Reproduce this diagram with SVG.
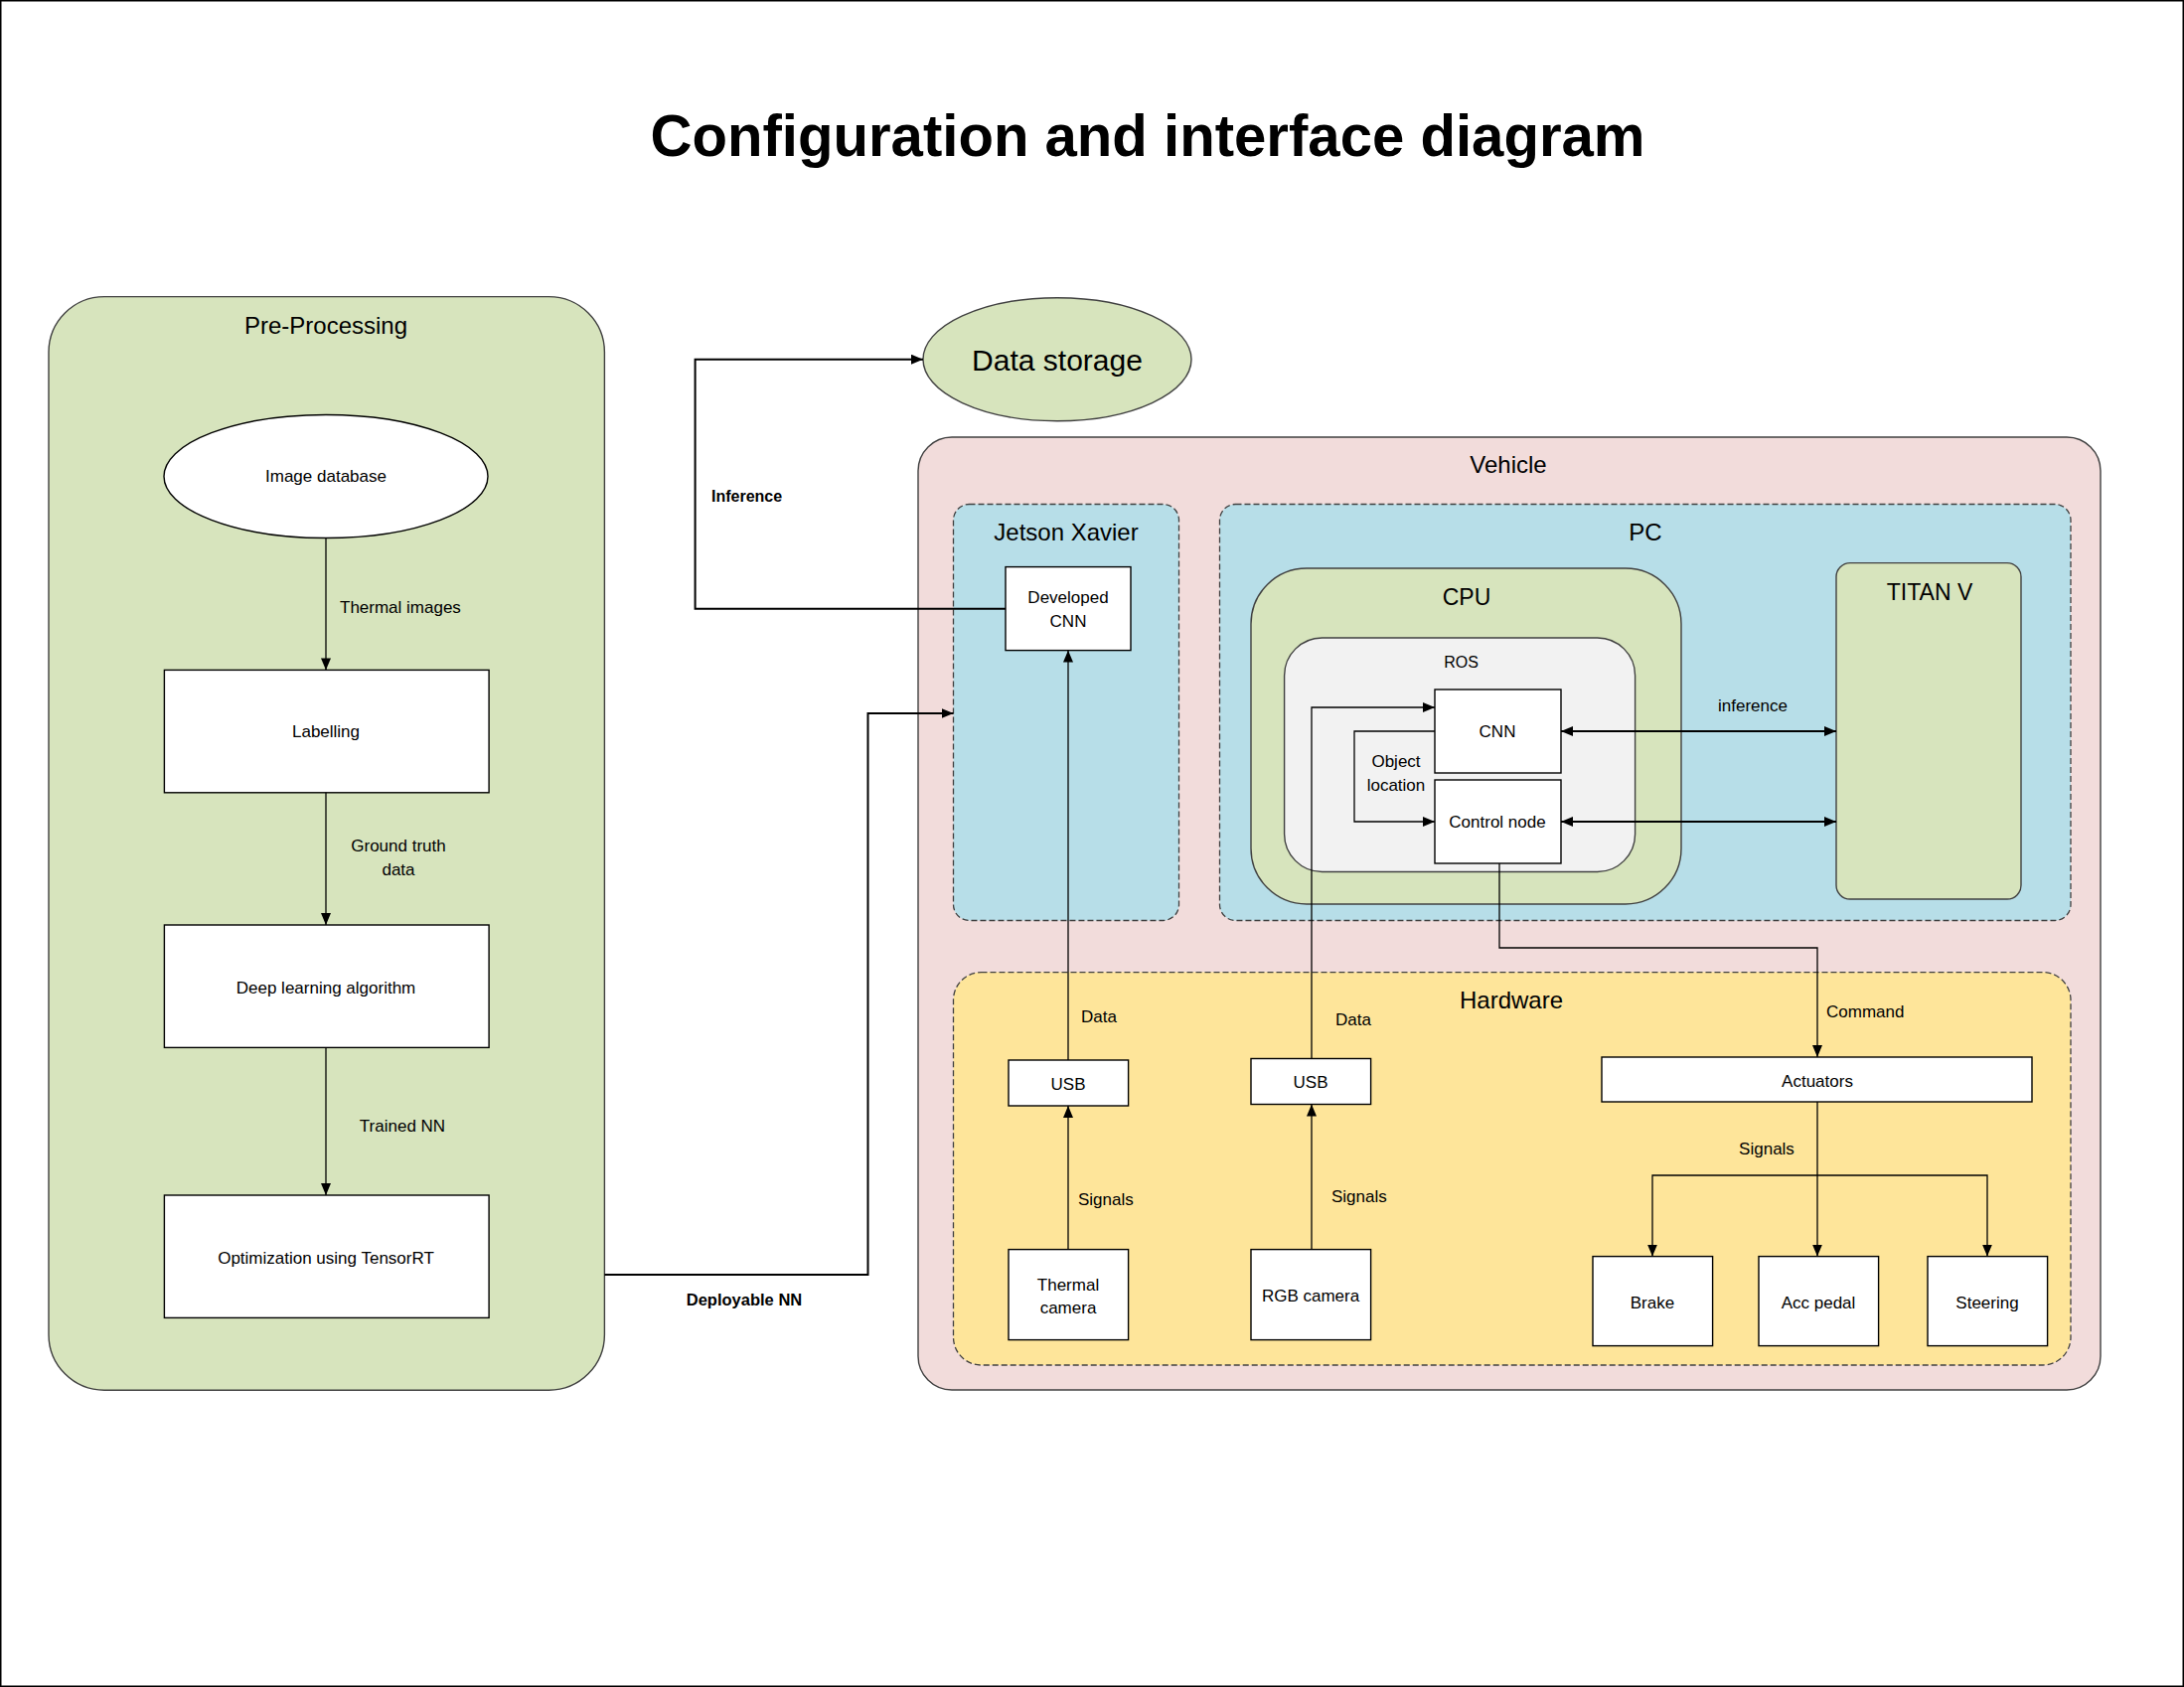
<svg xmlns="http://www.w3.org/2000/svg" width="2198" height="1698" viewBox="0 0 2198 1698">
<style>
text{font-family:"Liberation Sans",Arial,sans-serif;fill:#000}
.s{font-size:17px}
.m{font-size:24px}
.c{text-anchor:middle}
.b{font-weight:bold}
.box{fill:#fff;stroke:#000;stroke-width:1.4}
.green{fill:#d7e4bd;stroke:#404040;stroke-width:1.4}
.dash{stroke:#404040;stroke-width:1.3;stroke-dasharray:6 3}
.ln{fill:none;stroke:#000;stroke-width:1.3}
.thick{fill:none;stroke:#000;stroke-width:2}
</style>
<defs>
<marker id="ah" markerUnits="userSpaceOnUse" markerWidth="12" markerHeight="10" refX="12" refY="5" orient="auto-start-reverse" viewBox="0 0 12 10">
<path d="M0,0 L12,5 L0,10 z" fill="#000"/>
</marker>
</defs>
<rect x="0.75" y="0.75" width="2196.5" height="1696.5" fill="#fff" stroke="#000" stroke-width="1.5"/>
<text id="title" x="1155" y="157" class="c b" font-size="60" textLength="1001" lengthAdjust="spacingAndGlyphs">Configuration and interface diagram</text>

<g id="preprocessing">
<rect x="49" y="298.6" width="559.4" height="1100.6" rx="56" class="green"/>
<text x="328" y="328" dy="0.35em" class="m c">Pre-Processing</text>
</g>
<g id="image-database">
<ellipse cx="328" cy="479.5" rx="163" ry="62" class="box"/>
<text x="328" y="479.5" dy="0.35em" class="s c">Image database</text>
</g>
<g id="labelling">
<rect x="165.4" y="674.4" width="326.7" height="123.4" class="box"/>
<text x="328" y="736" dy="0.35em" class="s c">Labelling</text>
</g>
<g id="deep-learning">
<rect x="165.4" y="931" width="326.7" height="123.4" class="box"/>
<text x="328" y="994" dy="0.35em" class="s c">Deep learning algorithm</text>
</g>
<g id="optimization">
<rect x="165.4" y="1203" width="326.7" height="123.4" class="box"/>
<text x="328" y="1266" dy="0.35em" class="s c">Optimization using TensorRT</text>
</g>

<g id="data-storage">
<ellipse cx="1064" cy="361.7" rx="135" ry="62" class="green"/>
<text x="1064" y="362" dy="0.35em" class="c" font-size="30">Data storage</text>
</g>

<g id="vehicle">
<rect x="924" y="440" width="1190" height="959" rx="34" fill="#f2dcdb" stroke="#404040" stroke-width="1.4"/>
<text x="1518" y="468" dy="0.35em" class="m c">Vehicle</text>
</g>
<g id="jetson-xavier">
<rect x="959.5" y="507.5" width="227" height="419" rx="16" fill="#b7dee8" class="dash"/>
<text x="1073" y="535.5" dy="0.35em" class="m c">Jetson Xavier</text>
</g>
<g id="developed-cnn">
<rect x="1012" y="570.6" width="126" height="84" class="box"/>
<text x="1075" y="601.5" dy="0.35em" class="s c">Developed</text>
<text x="1075" y="625" dy="0.35em" class="s c">CNN</text>
</g>
<g id="pc">
<rect x="1227.5" y="507.5" width="856.5" height="419" rx="16" fill="#b7dee8" class="dash"/>
<text x="1656" y="535.5" dy="0.35em" class="m c">PC</text>
</g>
<g id="cpu">
<rect x="1259" y="572" width="433" height="338" rx="56" class="green"/>
<text x="1476" y="601" dy="0.35em" class="c" font-size="23">CPU</text>
</g>
<g id="ros">
<rect x="1292.6" y="642" width="353" height="235.5" rx="38" fill="#f2f2f2" stroke="#404040" stroke-width="1.4"/>
<text x="1470.6" y="666" dy="0.35em" class="c" font-size="16">ROS</text>
</g>
<g id="cnn">
<rect x="1444" y="694" width="127" height="84" class="box"/>
<text x="1507" y="736" dy="0.35em" class="s c">CNN</text>
</g>
<g id="control-node">
<rect x="1444" y="785" width="127" height="84" class="box"/>
<text x="1507" y="827" dy="0.35em" class="s c">Control node</text>
</g>
<g id="titan-v">
<rect x="1848" y="566.6" width="186" height="338.4" rx="14" class="green"/>
<text x="1942" y="596" dy="0.35em" class="c" font-size="23">TITAN V</text>
</g>

<g id="hardware">
<rect x="959.5" y="978.6" width="1124.5" height="395.4" rx="28" fill="#fee59a" class="dash"/>
<text x="1521" y="1006.6" dy="0.35em" class="m c">Hardware</text>
</g>
<g id="usb1">
<rect x="1015" y="1067" width="120.6" height="46" class="box"/>
<text x="1075" y="1091" dy="0.35em" class="s c">USB</text>
</g>
<g id="thermal-camera">
<rect x="1015" y="1257.6" width="120.6" height="91" class="box"/>
<text x="1075" y="1292.6" dy="0.35em" class="s c">Thermal</text>
<text x="1075" y="1316" dy="0.35em" class="s c">camera</text>
</g>
<g id="usb2">
<rect x="1259" y="1065.5" width="120.6" height="46" class="box"/>
<text x="1319" y="1089" dy="0.35em" class="s c">USB</text>
</g>
<g id="rgb-camera">
<rect x="1259" y="1257.6" width="120.6" height="91" class="box"/>
<text x="1319" y="1304" dy="0.35em" class="s c">RGB camera</text>
</g>
<g id="actuators">
<rect x="1612" y="1064" width="433" height="45" class="box"/>
<text x="1829" y="1088" dy="0.35em" class="s c">Actuators</text>
</g>
<g id="brake">
<rect x="1603" y="1264.6" width="120.6" height="90" class="box"/>
<text x="1663" y="1311" dy="0.35em" class="s c">Brake</text>
</g>
<g id="acc-pedal">
<rect x="1770" y="1264.6" width="120.6" height="90" class="box"/>
<text x="1830" y="1311" dy="0.35em" class="s c">Acc pedal</text>
</g>
<g id="steering">
<rect x="1940" y="1264.6" width="120.6" height="90" class="box"/>
<text x="2000" y="1311" dy="0.35em" class="s c">Steering</text>
</g>

<g id="connectors">
<path d="M328 541.5 V674.4" class="ln" marker-end="url(#ah)"/>
<path d="M328 797.8 V931" class="ln" marker-end="url(#ah)"/>
<path d="M328 1054.4 V1203" class="ln" marker-end="url(#ah)"/>
<path d="M608.4 1283 H873.5 V718 H959.5" class="thick" marker-end="url(#ah)"/>
<path d="M1012 612.7 H699.6 V361.7 H929" class="thick" marker-end="url(#ah)"/>
<path d="M1075 1067 V654.6" class="ln" marker-end="url(#ah)"/>
<path d="M1075 1257.6 V1113" class="ln" marker-end="url(#ah)"/>
<path d="M1320 1065.5 V712 H1444" class="ln" marker-end="url(#ah)"/>
<path d="M1320 1257.6 V1111.5" class="ln" marker-end="url(#ah)"/>
<path d="M1444 736 H1363 V827 H1444" class="ln" marker-end="url(#ah)"/>
<path d="M1571 736 H1848" class="thick" marker-start="url(#ah)" marker-end="url(#ah)"/>
<path d="M1571 827 H1848" class="thick" marker-start="url(#ah)" marker-end="url(#ah)"/>
<path d="M1509 869 V954 H1829 V1064" class="ln" marker-end="url(#ah)"/>
<path d="M1829 1109 V1264.6" class="ln" marker-end="url(#ah)"/>
<path d="M1829 1183 H1663 V1264.6" class="ln" marker-end="url(#ah)"/>
<path d="M1829 1183 H2000 V1264.6" class="ln" marker-end="url(#ah)"/>
<text x="342" y="611" dy="0.35em" class="s">Thermal images</text>
<text x="401" y="851" dy="0.35em" class="s c">Ground truth</text>
<text x="401" y="875" dy="0.35em" class="s c">data</text>
<text x="405" y="1133" dy="0.35em" class="s c">Trained NN</text>
<text x="749" y="1308" dy="0.35em" class="c b" font-size="16.5">Deployable NN</text>
<text x="716" y="499" dy="0.35em" class="b" font-size="16">Inference</text>
<text x="1405" y="766" dy="0.35em" class="s c">Object</text>
<text x="1405" y="790" dy="0.35em" class="s c">location</text>
<text x="1764" y="710" dy="0.35em" class="s c">inference</text>
<text x="1088" y="1023" dy="0.35em" class="s">Data</text>
<text x="1344" y="1026" dy="0.35em" class="s">Data</text>
<text x="1838" y="1018" dy="0.35em" class="s">Command</text>
<text x="1085" y="1207" dy="0.35em" class="s">Signals</text>
<text x="1340" y="1204" dy="0.35em" class="s">Signals</text>
<text x="1778" y="1156" dy="0.35em" class="s c">Signals</text>
</g>
</svg>
